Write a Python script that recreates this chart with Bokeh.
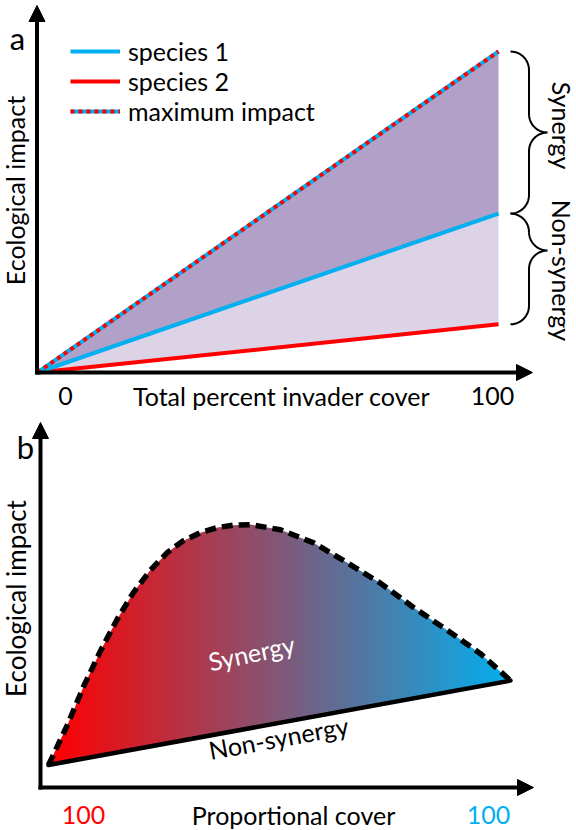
import numpy as np
from bokeh.plotting import figure
from bokeh.layouts import column
from bokeh.models import Range1d, Arrow, NormalHead, Label, Legend, LegendItem
from bokeh.core.properties import value
from bokeh.embed import file_html
from bokeh.resources import INLINE

# ---------------- data ----------------
# panel a: impact vs total percent invader cover
cover_a = [0, 100]
species1 = [0, 49.5]
species2 = [0, 15]
max_impact = [0, 100]
legend_labels = ["species 1", "species 2", "maximum impact"]

# panel b: impact vs proportional cover (species 2 -> species 1)
prop_cover = [0, 4.1, 7.6, 11.3, 14.9, 18.4, 22.1, 25.8, 29.2, 32.9, 36.6,
              40.0, 43.7, 50.2, 57.4, 64.7, 71.9, 79.0, 86.4, 93.5, 100]
synergy_impact = [7, 19.5, 31.5, 42.7, 52.5, 60.8, 67.8, 73.3, 76.9, 79.4, 81.0,
                  81.7, 81.9, 80.3, 76.2, 70.0, 63.6, 56.1, 48.9, 41.7, 33.3]
nonsyn_cover = [0, 100]
nonsyn_impact = [7, 33.3]

BLUE = "#00b0f0"
RED = "#ff0000"
DARK = "#b1a0c7"
LIGHT = "#dcd3e6"
FONT = "Lato"
FS = "25px"

W, H = 576, 415


def make_fig(ox, oy, sx, sy):
    p = figure(width=W, height=H, output_backend="svg", toolbar_location=None,
               x_range=Range1d(-ox / sx, (W - ox) / sx),
               y_range=Range1d(-(H - oy) / sy, oy / sy),
               x_axis_location=None, y_axis_location=None, min_border=0)
    p.grid.visible = False
    p.outline_line_color = None
    p.background_fill_color = "white"
    p.border_fill_color = "white"
    return p


def label(p, x, y, text, size=FS, color="black", angle=0.0):
    p.add_layout(Label(x=x, y=y, text=text, text_font=FONT, text_font_size=size,
                       text_color=color, text_align="center", text_baseline="middle",
                       angle=angle))


def axis_arrows(p, x0, y0, x_tip, y_tip, xa, ya):
    head = dict(size=16, fill_color="black", line_color="black", line_width=1)
    p.add_layout(Arrow(end=NormalHead(**head), x_start=x0, y_start=ya, x_end=x_tip, y_end=ya,
                       line_width=4, line_color="black"))
    p.add_layout(Arrow(end=NormalHead(**head), x_start=xa, y_start=y0, x_end=xa, y_end=y_tip,
                       line_width=4, line_color="black"))


# ---------------- panel a ----------------
AOX, AOY, ASX, ASY = 37.0, 372.0, 4.61, 3.21
ax = lambda px: (px - AOX) / ASX
ay = lambda py: (AOY - py) / ASY

p1 = make_fig(AOX, AOY, ASX, ASY)
p1.varea(x=cover_a, y1=species1, y2=max_impact, fill_color=DARK)
p1.varea(x=cover_a, y1=species2, y2=species1, fill_color=LIGHT)
r2 = p1.line(cover_a, species2, line_color=RED, line_width=4)
r1 = p1.line(cover_a, species1, line_color=BLUE, line_width=4)
rm1 = p1.line(cover_a, max_impact, line_color=BLUE, line_width=4)
rm2 = p1.line(cover_a, max_impact, line_color=RED, line_width=4, line_dash="4 4")

legend = Legend(items=[LegendItem(label=legend_labels[0], renderers=[r1]),
                       LegendItem(label=legend_labels[1], renderers=[r2]),
                       LegendItem(label=legend_labels[2], renderers=[rm1, rm2])],
                location=(70, 415 - 36 - 90), padding=0, margin=0, spacing=0,
                glyph_width=50, glyph_height=20, label_height=20, label_standoff=8,
                label_text_font=FONT, label_text_font_size=FS, label_text_color="black",
                background_fill_alpha=0, border_line_color=None)
p1.add_layout(legend)

axis_arrows(p1, ax(35), ay(374), ax(532), ay(5), ax(36.5), 0)


def brace_path(x0, y_top, y_bot, y_tip, r, n=12):
    t = np.linspace(0, np.pi / 2, n)
    xs = np.concatenate([x0 + r * np.sin(t), x0 + 2 * r - r * np.cos(t),
                         x0 + 2 * r - r * np.sin(t), x0 + r * np.cos(t)])
    ys = np.concatenate([y_top + r * (1 - np.cos(t)), y_tip - r + r * np.sin(t),
                         y_tip + r - r * np.cos(t), y_bot - r + r * np.sin(t)])
    return xs, ys


# braces in screen px derived from the line end values
end_px = AOX + cover_a[-1] * ASX
py_max = AOY - max_impact[-1] * ASY
py_s1 = AOY - species1[-1] * ASY
py_s2 = AOY - species2[-1] * ASY
for top, bot, tip in [(py_max, py_s1, (py_max + py_s1) / 2),
                      (py_s1, py_s2, py_s1 + (py_s2 - py_s1) / 3)]:
    bx, by = brace_path(end_px + 12, top, bot, tip, 18.5)
    p1.line([ax(v) for v in bx], [ay(v) for v in by], line_color="black", line_width=2)

label(p1, ax(561), ay(125), "Synergy", angle=-np.pi / 2)
label(p1, ax(561), ay(270), "Non-synergy", angle=-np.pi / 2)
label(p1, ax(17), ay(37), "a", size="31px")
label(p1, ax(14), ay(190), "Ecological impact", angle=np.pi / 2)
label(p1, ax(65), ay(395), "0")
label(p1, ax(281), ay(395), "Total percent invader cover")
label(p1, ax(492), ay(395), "100")

# ---------------- panel b ----------------
BOX, BOY, BSX, BSY = 48.0, 372.0, 4.62, 3.21
bx_ = lambda px: (px - BOX) / BSX
by_ = lambda py: (BOY - (py - 415)) / BSY   # py in full-page pixels

p2 = make_fig(BOX, BOY, BSX, BSY)

# gradient fill (red -> blue) as thin vertical strips, then masked to the shape
x0, x1 = prop_cover[0], prop_cover[-1]
edges = np.linspace(x0, x1, 121)
c0 = np.array([255, 0, 0])
c1 = np.array([0, 176, 240])
cols = []
for e in edges[:-1]:
    f = (e - x0) / (x1 - x0)
    c = (c0 + (c1 - c0) * f).round().astype(int)
    cols.append("#%02x%02x%02x" % tuple(c))
lo = min(nonsyn_impact) - 1
hi = max(synergy_impact) + 1
p2.quad(left=edges[:-1], right=np.minimum(edges[1:] + 0.3, x1), bottom=lo, top=hi,
        fill_color=cols, line_color=None)
top_mask_x = [x0 - 1] + prop_cover + [x1 + 1, x1 + 1, x0 - 1]
top_mask_y = [synergy_impact[0]] + synergy_impact + [synergy_impact[-1], hi + 3, hi + 3]
p2.patch(top_mask_x, top_mask_y, fill_color="white", line_color=None)
bot_mask_x = [x0 - 1] + nonsyn_cover + [x1 + 1, x1 + 1, x0 - 1]
bot_mask_y = [nonsyn_impact[0]] + nonsyn_impact + [nonsyn_impact[-1], lo - 3, lo - 3]
p2.patch(bot_mask_x, bot_mask_y, fill_color="white", line_color=None)

p2.line(nonsyn_cover, nonsyn_impact, line_color="black", line_width=4.5, line_cap="round")
p2.line(prop_cover, synergy_impact, line_color="black", line_width=5.5, line_dash="11 6",
        line_join="round")

axis_arrows(p2, bx_(38), by_(789), bx_(533), by_(422), bx_(40), 0)

label(p2, bx_(25), by_(446), "b", size="31px")
label(p2, bx_(15), by_(598), "Ecological impact", size="26px", angle=np.pi / 2)
label(p2, bx_(251), by_(652), "Synergy", color="white", angle=np.deg2rad(12))
label(p2, bx_(278), by_(737), "Non-synergy", angle=np.deg2rad(10.4))
label(p2, bx_(83), by_(814), "100", color=RED)
label(p2, bx_(293), by_(814), "Proportional cover")
label(p2, bx_(488), by_(814), "100", color=BLUE)

page = column(p1, p2, spacing=0)
open("out.html", "w").write(file_html(page, INLINE))
